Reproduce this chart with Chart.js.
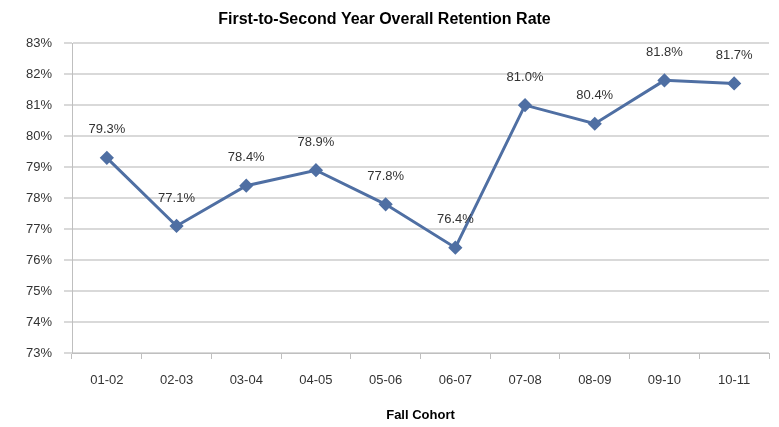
<!DOCTYPE html>
<html>
<head>
<meta charset="utf-8">
<script src="https://cdn.jsdelivr.net/npm/chart.js@4/dist/chart.umd.min.js"></script>
<style>
html,body{margin:0;padding:0;background:#fff;}
#wrap{width:779px;height:427px;position:relative;}
</style>
</head>
<body>
<div id="wrap"><canvas id="c" width="779" height="427"></canvas></div>
<script>
const categories = ["01-02","02-03","03-04","04-05","05-06","06-07","07-08","08-09","09-10","10-11"];
const retention = [79.3, 77.1, 78.4, 78.9, 77.8, 76.4, 81.0, 80.4, 81.8, 81.7];
const yMin = 73, yMax = 83, yStep = 1;
const titleText = "First-to-Second Year Overall Retention Rate";
const xTitle = "Fall Cohort";

const FONT = "'Liberation Sans', Arial, sans-serif";
const LINE = "#4f6fa3";

const labelPlugin = {
  id: 'valueLabels',
  afterDatasetsDraw(chart) {
    const ctx = chart.ctx;
    const meta = chart.getDatasetMeta(0);
    ctx.save();
    ctx.font = "13px " + FONT;
    ctx.fillStyle = "#333333";
    ctx.textAlign = "center";
    ctx.textBaseline = "middle";
    meta.data.forEach((el, i) => {
      ctx.fillText(retention[i].toFixed(1) + "%", el.x, el.y - 28);
    });
    ctx.restore();
  }
};

new Chart(document.getElementById('c'), {
  type: 'line',
  data: {
    labels: categories,
    datasets: [{
      data: retention,
      borderColor: LINE,
      backgroundColor: LINE,
      borderWidth: 3,
      pointStyle: 'rectRot',
      pointRadius: 5,
      pointHoverRadius: 5,
      tension: 0
    }]
  },
  options: {
    responsive: false,
    animation: false,
    layout: { padding: { top: 10, right: 10, bottom: 0, left: 0 } },
    plugins: {
      legend: { display: false },
      tooltip: { enabled: false },
      title: {
        display: true,
        text: titleText,
        color: "#000",
        font: { family: FONT, size: 16, weight: 'bold' },
        padding: { top: 0, bottom: 14 }
      }
    },
    scales: {
      x: {
        offset: true,
        grid: { display: true, drawOnChartArea: false, drawTicks: true, tickLength: 6, offset: true, color: "#bfbfbf" },
        border: { display: true, color: "#bfbfbf", width: 1 },
        ticks: { color: "#333", font: { family: FONT, size: 13 }, padding: 14, maxRotation: 0 },
        title: { display: true, text: xTitle, color: "#000", font: { family: FONT, size: 13, weight: 'bold' }, padding: { top: 10, bottom: 4 } },
        afterFit(scale) { scale.height = 74; }
      },
      y: {
        min: yMin, max: yMax,
        grid: { color: "#d9d9d9", lineWidth: 2, tickLength: 8 },
        border: { display: true, color: "#bfbfbf", width: 1 },
        ticks: { stepSize: yStep, color: "#333", font: { family: FONT, size: 13 }, padding: 12,
          callback: v => v + "%" },
        afterFit(scale) { scale.width = 72; }
      }
    }
  },
  plugins: [labelPlugin]
});
</script>
</body>
</html>
